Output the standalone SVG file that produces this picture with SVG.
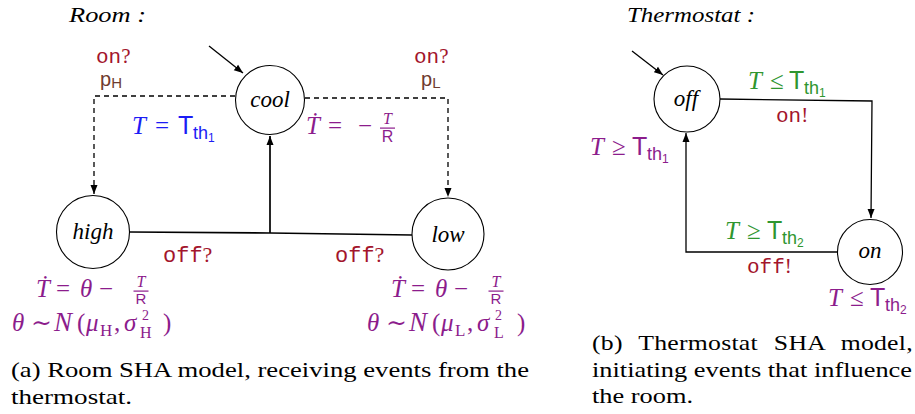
<svg xmlns="http://www.w3.org/2000/svg" width="915" height="414" viewBox="0 0 915 414">
<defs>
<style>
.it{font-family:"Liberation Serif","DejaVu Serif",serif;font-style:italic}
.rm{font-family:"Liberation Serif","DejaVu Serif",serif}
.sf{font-family:"Liberation Sans","DejaVu Sans",sans-serif}
.tt{font-family:"Liberation Mono","DejaVu Sans Mono",monospace}
.m{font-size:25px}
.node{fill:#fff;stroke:#000;stroke-width:1.1}
.lbl{font-family:"Liberation Serif",serif;font-style:italic;font-size:23px;text-anchor:middle;fill:#000}
.red{fill:#a3152c}
.brown{fill:#6f3b2f}
.blue{fill:#1c1cf5}
.purple{fill:#8c1c8c}
.green{fill:#2f962f}
.cap{font-family:"Liberation Serif",serif;font-size:22px;fill:#000}
.dash{fill:none;stroke:#000;stroke-width:1.3;stroke-dasharray:5 4}
.solid{fill:none;stroke:#000;stroke-width:1.7}
.thin{fill:none;stroke:#000;stroke-width:1.3}
</style>
<marker id="arr" markerWidth="10" markerHeight="8" refX="9" refY="4" orient="auto" markerUnits="userSpaceOnUse"><path d="M0,0.5 L9,4 L0,7.5 z" fill="#000"/></marker>
</defs>
<rect width="915" height="414" fill="#fff"/>

<text class="it" x="69" y="22" font-size="22" textLength="77" lengthAdjust="spacingAndGlyphs">Room :</text>
<text class="it" x="627" y="22" font-size="22" textLength="128" lengthAdjust="spacingAndGlyphs">Thermostat :</text>

<g id="connectors">
<path class="thin" d="M209,46 L243,73" marker-end="url(#arr)"/>
<path class="dash" d="M235,96 H94 V194" marker-end="url(#arr)"/>
<path class="dash" d="M305,98 H448 V197" marker-end="url(#arr)"/>
<path class="solid" d="M130,232 L270,233 L412,235"/>
<path class="solid" d="M270,233 V136" marker-end="url(#arr)"/>
<path class="thin" d="M632,51 L663,75" marker-end="url(#arr)"/>
<path class="thin" d="M720,99 L872,101 L871,218" marker-end="url(#arr)"/>
<path class="thin" d="M838,252 H686 V133" marker-end="url(#arr)"/>
</g>

<g id="cool"><circle class="node" cx="270" cy="100" r="34.5"/><text class="lbl" x="270" y="107">cool</text></g>
<g id="high"><circle class="node" cx="93" cy="232" r="36.5"/><text class="lbl" x="93" y="239">high</text></g>
<g id="low"><circle class="node" cx="448" cy="234" r="36"/><text class="lbl" x="448" y="242">low</text></g>
<g id="off"><circle class="node" cx="687" cy="99" r="33"/><text class="lbl" x="686" y="106">off</text></g>
<g id="on"><circle class="node" cx="870" cy="252" r="32.5"/><text class="lbl" x="870" y="258">on</text></g>

<g id="room-labels">
<text x="96" y="63" font-size="21" class="red"><tspan class="tt">on</tspan><tspan class="rm">?</tspan></text>
<text x="100" y="86" font-size="20" class="sf brown">p<tspan font-size="15" dy="2">H</tspan></text>
<text x="414" y="63" font-size="21" class="red"><tspan class="tt">on</tspan><tspan class="rm">?</tspan></text>
<text x="421" y="86" font-size="20" class="sf brown">p<tspan font-size="15" dy="2">L</tspan></text>

<text y="134" class="m blue"><tspan class="it" x="132">T</tspan><tspan class="rm" x="155">=</tspan><tspan class="sf" x="178">T</tspan><tspan class="sf" x="193" dy="5" font-size="18">th</tspan><tspan class="sf" dy="3" font-size="12">1</tspan></text>

<g class="purple">
<text y="134" class="m"><tspan class="it" x="306">Ṫ</tspan><tspan class="rm" x="328">=</tspan><tspan class="rm" x="358">−</tspan></text>
<text class="it" x="387.5" y="124" font-size="16" text-anchor="middle">T</text>
<rect x="380" y="127.5" width="15" height="1.2"/>
<text class="sf" x="387.5" y="142" font-size="16" text-anchor="middle">R</text>
</g>

<text x="163" y="262" font-size="22" class="red"><tspan class="tt">off</tspan><tspan class="rm">?</tspan></text>
<text x="335" y="262" font-size="22" class="red"><tspan class="tt">off</tspan><tspan class="rm">?</tspan></text>

<g class="purple">
<text y="297" class="m"><tspan class="it" x="36">Ṫ</tspan><tspan class="rm" x="56">=</tspan><tspan class="it" x="80">θ</tspan><tspan class="rm" x="99">−</tspan></text>
<text class="it" x="141" y="287" font-size="16" text-anchor="middle">T</text>
<rect x="133.5" y="290.5" width="15" height="1.2"/>
<text class="sf" x="141" y="304" font-size="15" text-anchor="middle">R</text>
<text y="331" class="m"><tspan class="it" x="12">θ</tspan><tspan class="rm" x="31">∼</tspan><tspan class="it" x="54" font-size="27">N</tspan><tspan class="rm" x="77">(</tspan><tspan class="it" x="86">μ</tspan><tspan class="rm" x="100" dy="5" font-size="17">H</tspan><tspan class="rm" x="114" dy="-5">,</tspan><tspan class="it" x="124">σ</tspan><tspan class="rm" x="142" dy="-11" font-size="14">2</tspan><tspan class="rm" x="140" dy="18" font-size="16">H</tspan><tspan class="rm" x="163" dy="-7">)</tspan></text>

<text y="297" class="m"><tspan class="it" x="391">Ṫ</tspan><tspan class="rm" x="411">=</tspan><tspan class="it" x="435">θ</tspan><tspan class="rm" x="454">−</tspan></text>
<text class="it" x="496" y="287" font-size="16" text-anchor="middle">T</text>
<rect x="488.5" y="290.5" width="15" height="1.2"/>
<text class="sf" x="496" y="304" font-size="15" text-anchor="middle">R</text>
<text y="331" class="m"><tspan class="it" x="367">θ</tspan><tspan class="rm" x="386">∼</tspan><tspan class="it" x="409" font-size="27">N</tspan><tspan class="rm" x="432">(</tspan><tspan class="it" x="441">μ</tspan><tspan class="rm" x="455" dy="5" font-size="17">L</tspan><tspan class="rm" x="467" dy="-5">,</tspan><tspan class="it" x="477">σ</tspan><tspan class="rm" x="495" dy="-11" font-size="14">2</tspan><tspan class="rm" x="494" dy="18" font-size="16">L</tspan><tspan class="rm" x="517" dy="-7">)</tspan></text>
</g>
</g>

<g id="thermostat-labels">
<text y="89" class="m green"><tspan class="it" x="748">T</tspan><tspan class="rm" x="770">≤</tspan><tspan class="sf" x="789">T</tspan><tspan class="sf" x="804" dy="5" font-size="18">th</tspan><tspan class="sf" dy="3" font-size="12">1</tspan></text>
<text x="776" y="122" font-size="21" class="red"><tspan class="tt">on</tspan><tspan class="rm">!</tspan></text>
<text y="155" class="m purple"><tspan class="it" x="590">T</tspan><tspan class="rm" x="612">≥</tspan><tspan class="sf" x="632">T</tspan><tspan class="sf" x="647" dy="5" font-size="18">th</tspan><tspan class="sf" dy="3" font-size="12">1</tspan></text>
<text y="239" class="m green"><tspan class="it" x="725">T</tspan><tspan class="rm" x="747">≥</tspan><tspan class="sf" x="767">T</tspan><tspan class="sf" x="782" dy="5" font-size="18">th</tspan><tspan class="sf" dy="3" font-size="12">2</tspan></text>
<text x="747" y="273" font-size="21" class="red"><tspan class="tt">off</tspan><tspan class="rm">!</tspan></text>
<text y="306" class="m purple"><tspan class="it" x="828">T</tspan><tspan class="rm" x="850">≤</tspan><tspan class="sf" x="870">T</tspan><tspan class="sf" x="885" dy="5" font-size="18">th</tspan><tspan class="sf" dy="3" font-size="12">2</tspan></text>
</g>

<g id="captions">
<text class="cap" x="11" y="377" textLength="518" lengthAdjust="spacingAndGlyphs">(a) Room SHA model, receiving events from the</text>
<text class="cap" x="11" y="404" textLength="121" lengthAdjust="spacingAndGlyphs">thermostat.</text>
<text class="cap" transform="translate(592,350) scale(1.17,1)" x="0" y="0" word-spacing="8" textLength="274" lengthAdjust="spacing">(b) Thermostat SHA model,</text>
<text class="cap" x="592" y="377" textLength="320" lengthAdjust="spacingAndGlyphs">initiating events that influence</text>
<text class="cap" x="592" y="403" textLength="101" lengthAdjust="spacingAndGlyphs">the room.</text>
</g>
</svg>
